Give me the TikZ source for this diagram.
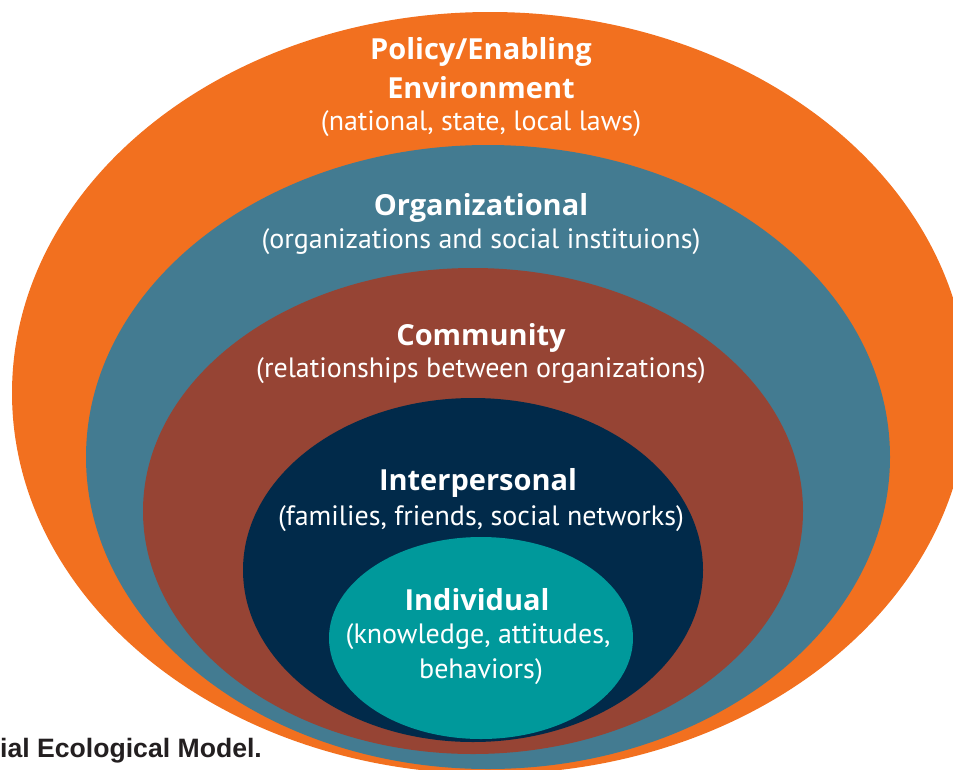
\documentclass[tikz,border=0pt]{standalone}
\usepackage{fontspec}
\setmainfont{PT Sans}
\newfontfamily\titlefont{Open Sans}
\newfontfamily\capfont{Liberation Sans}
\definecolor{policy}{HTML}{F2701F}
\definecolor{orgn}{HTML}{437B91}
\definecolor{comm}{HTML}{964434}
\definecolor{inter}{HTML}{012A4A}
\definecolor{indiv}{HTML}{00999B}
\definecolor{captext}{HTML}{231F20}
\begin{document}
\begin{tikzpicture}[x=1pt,y=1pt,
	layertext/.style={text=white,inner sep=0pt,anchor=base},
	title/.style={layertext,font=\titlefont\fontsize{29}{32}\selectfont\bfseries},
	sub/.style={layertext,font=\fontsize{28}{32}\selectfont}]
	\useasboundingbox (0,0) rectangle (953,-769);
	\clip (0,0) rectangle (953,-769);
	\fill[policy] (490,-393) ellipse [x radius=478, y radius=381];
	\fill[orgn] (488,-457) ellipse [x radius=402, y radius=312];
	\fill[comm] (473,-511) ellipse [x radius=330, y radius=243];
	\fill[inter] (473,-570) ellipse [x radius=230, y radius=172];
	\fill[indiv] (481,-638) ellipse [x radius=152, y radius=101];
	\node[title] (pol1) at (481,-59) {Policy/Enabling};
	\node[title] (pol2) at (481,-98) {Environment};
	\node[sub] (pol3) at (481,-130) {(national, state, local laws)};
	\node[title] (org1) at (481,-215) {Organizational};
	\node[sub] (org2) at (481,-248) {(organizations and social instituions)};
	\node[title] (com1) at (481,-345) {Community};
	\node[sub] (com2) at (481,-377) {(relationships between organizations)};
	\node[title] (int1) at (478,-490) {Interpersonal};
	\node[sub] (int2) at (481,-525) {(families, friends, social networks)};
	\node[title] (ind1) at (477,-610) {Individual};
	\node[sub] (ind2) at (478,-643) {(knowledge, attitudes,};
	\node[sub] (ind3) at (481,-678) {behaviors)};
	\node[anchor=base west,inner sep=0pt,text=captext,font=\capfont\fontsize{26.6}{30}\selectfont\bfseries] (cap) at (0,-757) {ial Ecological Model.};
\end{tikzpicture}
\end{document}
